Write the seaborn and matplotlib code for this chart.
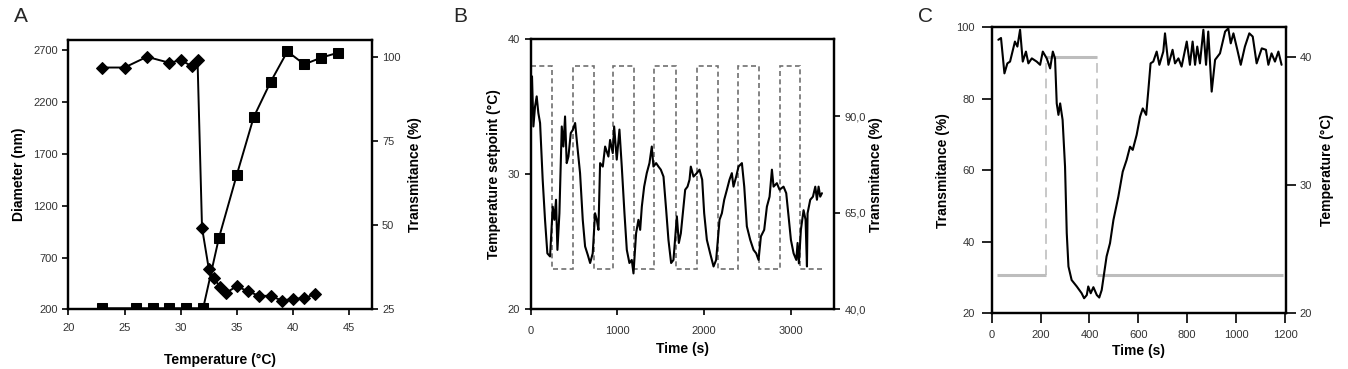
import numpy as np
import pandas as pd
import matplotlib
matplotlib.use("Agg")
import matplotlib.pyplot as plt
from matplotlib.ticker import FuncFormatter
import seaborn as sns

# ---- Panel A: transmittance (diamonds) and diameter (squares) vs temperature
a_trans_temp = [23, 25, 27, 29, 30, 31, 31.5, 31.9, 32.5, 33, 33.5, 34, 35, 36, 37, 38, 39, 40, 41, 42]
a_trans = [97.0, 97.0, 100.2, 98.4, 99.2, 97.4, 99.2, 49.3, 37.1, 34.2, 31.5, 29.8, 31.9, 30.3,
           29.0, 29.0, 27.6, 28.1, 28.3, 29.6]
a_diam_temp = [23, 26, 27.5, 29, 30.5, 32, 33.4, 35, 36.5, 38, 39.5, 41, 42.5, 44]
a_diam = [210, 210, 210, 210, 210, 210, 887, 1500, 2055, 2394, 2690, 2565, 2629, 2677]

# ---- Panel B: setpoint square wave and transmittance trace
b_set_edges = [0, 242, 485, 731, 954, 1196, 1427, 1677, 1915, 2158, 2388, 2635, 2877, 3100, 3358]
b_set_values = [38, 23, 38, 23, 38, 23, 38, 23, 38, 23, 38, 23, 38, 23]
b_time = [0, 15, 31, 50, 69, 88, 108, 138, 165, 192, 223, 254, 273, 292, 308, 331, 358, 377, 396,
          415, 435, 462, 485, 512, 538, 569, 600, 627, 658, 685, 715, 742, 762, 781, 800, 831, 858,
          896, 915, 946, 962, 992, 1023, 1050, 1081, 1108, 1138, 1165, 1185, 1215, 1242, 1262, 1281,
          1308, 1338, 1369, 1396, 1415, 1446, 1473, 1500, 1531, 1562, 1588, 1619, 1646, 1685, 1708,
          1731, 1754, 1781, 1808, 1831, 1846, 1877, 1915, 1946, 1977, 2000, 2031, 2069, 2108, 2138,
          2177, 2204, 2231, 2262, 2292, 2319, 2338, 2369, 2396, 2435, 2462, 2492, 2531, 2569, 2600,
          2627, 2654, 2692, 2723, 2754, 2781, 2800, 2838, 2869, 2915, 2946, 2973, 3000, 3031, 3062,
          3077, 3092, 3115, 3146, 3169, 3185, 3192, 3223, 3254, 3281, 3300, 3319, 3338, 3358]
b_trans = [99.5, 100.4, 87.4, 92.6, 95.2, 90.9, 88.3, 73.6, 63.2, 54.5, 53.7, 66.6, 63.2, 68.4, 55.4,
           64.9, 87.4, 82.2, 90.0, 77.9, 79.6, 85.7, 86.5, 88.3, 82.2, 75.3, 63.2, 56.3, 54.1, 52.0,
           54.5, 64.9, 63.2, 60.6, 77.9, 77.0, 82.2, 79.6, 83.9, 80.5, 87.4, 78.8, 86.6, 77.0, 64.9,
           55.4, 52.0, 52.8, 49.3, 59.7, 63.2, 60.6, 66.6, 71.8, 75.3, 77.9, 82.2, 77.0, 77.9, 77.0,
           76.2, 74.4, 65.7, 58.0, 52.0, 52.8, 64.1, 57.2, 59.7, 64.9, 71.0, 71.8, 73.6, 77.0, 74.4,
           75.3, 76.2, 73.6, 64.9, 58.0, 54.5, 51.1, 52.8, 63.2, 64.9, 68.4, 71.0, 73.6, 75.3, 71.8,
           74.4, 77.0, 77.9, 71.8, 61.5, 58.0, 55.4, 54.5, 52.8, 58.9, 60.6, 66.6, 69.2, 76.2, 71.8,
           72.7, 71.0, 71.8, 70.1, 64.1, 58.0, 54.5, 52.8, 57.2, 51.9, 60.6, 65.7, 63.2, 51.1, 64.9,
           68.4, 69.2, 71.8, 68.4, 71.8, 69.2, 70.1]

# ---- Panel C: single heating pulse
c_step_edges = [20, 222, 430, 1190]
c_step_levels = [23, 40, 23]
c_time = [27, 38, 52, 64, 75, 95, 105, 116, 127, 140, 150, 164, 184, 198, 209, 225, 239, 250, 259,
          266, 273, 280, 290, 300, 307, 314, 327, 348, 368, 378, 389, 395, 405, 416, 430, 440, 450,
          460, 470, 484, 498, 518, 536, 552, 566, 577, 593, 607, 618, 632, 641, 650, 661, 675, 686,
          702, 709, 723, 740, 750, 764, 777, 798, 811, 822, 832, 841, 852, 866, 877, 886, 900, 914,
          934, 955, 968, 978, 989, 1005, 1019, 1036, 1054, 1068, 1084, 1105, 1122, 1132, 1145, 1159,
          1173, 1186]
c_trans = [96.5, 97.0, 87.1, 89.9, 90.4, 96.0, 94.6, 99.3, 90.4, 93.2, 89.9, 91.3, 90.4, 89.5, 93.2,
           91.3, 88.5, 93.2, 91.3, 78.7, 75.5, 78.7, 74.1, 61.0, 42.4, 33.1, 29.3, 27.5, 25.6, 24.2,
           25.1, 27.5, 25.6, 27.3, 25.1, 24.4, 26.5, 31.2, 35.9, 39.6, 46.1, 52.6, 59.6, 62.9, 66.6,
           65.7, 69.9, 75.0, 77.3, 75.5, 82.5, 89.9, 90.4, 93.2, 89.5, 93.2, 98.3, 89.5, 93.7, 89.9,
           91.3, 89.0, 96.0, 89.5, 96.0, 89.5, 94.6, 89.9, 99.3, 89.5, 98.8, 82.0, 90.9, 92.7, 98.8,
           99.7, 95.5, 98.3, 93.7, 89.5, 94.6, 98.3, 97.4, 89.9, 94.1, 93.7, 89.5, 92.7, 90.4, 93.2,
           89.5]

sns.set_style("ticks")
plt.rcParams['font.family'] = ['Liberation Sans', 'DejaVu Sans']
plt.rcParams['axes.linewidth'] = 1.6
plt.rcParams['xtick.major.width'] = 1.2
plt.rcParams['ytick.major.width'] = 1.2
plt.rcParams['xtick.major.size'] = 4
plt.rcParams['ytick.major.size'] = 4

tick_col = '#333333'
lab_kw = dict(fontsize=10, fontweight='bold', color='black')

fig = plt.figure(figsize=(13.48, 3.69), dpi=100)

def style(ax, length=4, pad=3.5):
    ax.tick_params(labelsize=8, labelcolor=tick_col, colors='black', length=length, pad=pad)
    for s in ax.spines.values():
        s.set_visible(True)
        s.set_color('black')

# ---------------- A
axA = fig.add_axes([0.0507, 0.1618, 0.2250, 0.7298])
axA2 = axA.twinx()
sns.lineplot(x=a_diam_temp, y=a_diam, ax=axA, color='black', marker='s', markersize=7,
             markeredgecolor='black', lw=1.4, sort=False)
sns.lineplot(x=a_trans_temp, y=a_trans, ax=axA2, color='black', marker='D', markersize=6,
             markeredgecolor='black', lw=1.4, sort=False)
axA.set_xlim(20, 47)
axA.set_ylim(200, 2800)
axA2.set_ylim(25, 105.2)
axA.set_xticks(range(20, 46, 5))
axA.set_yticks(range(200, 2701, 500))
axA2.set_yticks([25, 50, 75, 100])
style(axA); style(axA2)
axA.tick_params(axis='x', pad=6)
axA.set_xlabel('Temperature (°C)', labelpad=14, **lab_kw)
axA.set_ylabel('Diameter (nm)', labelpad=5, **lab_kw)
axA2.set_ylabel('Transmitance (%)', labelpad=5, **lab_kw)

# ---------------- B
axB = fig.add_axes([0.3937, 0.1618, 0.2252, 0.7317])
axB2 = axB.twinx()
axB.stairs(b_set_values, b_set_edges, baseline=None, color='#707070', lw=1.2,
           linestyle=(0, (3, 2)))
sns.lineplot(x=b_time, y=b_trans, ax=axB2, color='black', lw=1.5, sort=False)
axB.set_xlim(0, 3500)
axB.set_ylim(20, 40)
axB2.set_ylim(40, 110)
axB.set_xticks([0, 1000, 2000, 3000])
axB.set_yticks([20, 30, 40])
axB2.set_yticks([40, 65, 90])
axB2.yaxis.set_major_formatter(FuncFormatter(lambda v, p: f'{v:.1f}'.replace('.', ',')))
style(axB); style(axB2)
axB.tick_params(axis='x', pad=8)
axB.set_xlabel('Time (s)', labelpad=4, **lab_kw)
axB.set_ylabel('Temperature setpoint (°C)', labelpad=5, **lab_kw)
axB2.set_ylabel('Transmitance (%)', labelpad=2, **lab_kw)

# ---------------- C
axC = fig.add_axes([0.7357, 0.1510, 0.2181, 0.7751])
axC2 = axC.twinx()
axC2.vlines(c_step_edges[1:-1], 23, 40, color='#c8c8c8', lw=1.4, linestyle=(0, (5, 3)))
axC2.hlines(c_step_levels, c_step_edges[:-1], c_step_edges[1:], color='#bdbdbd', lw=2.2)
sns.lineplot(x=c_time, y=c_trans, ax=axC, color='black', lw=1.5, sort=False)
axC.set_zorder(axC2.get_zorder() + 1)
axC.patch.set_visible(False)
axC.set_xlim(0, 1203)
axC.set_ylim(20, 100)
axC2.set_ylim(20, 42.3)
axC.set_xticks(range(0, 1201, 200))
axC.set_yticks(range(20, 101, 20))
axC2.set_yticks([20, 30, 40])
style(axC, length=7, pad=5); style(axC2, length=7, pad=3)
axC.set_xlabel('Time (s)', labelpad=3, **lab_kw)
axC.set_ylabel('Transmitance (%)', labelpad=5, **lab_kw)
axC2.set_ylabel('Temperature (°C)', labelpad=6, **lab_kw)

for letter, x in [('A', 0.0105), ('B', 0.336), ('C', 0.681)]:
    fig.text(x, 0.955, letter, fontsize=15, va='center', ha='left')

fig.savefig('out.png', dpi=100)
